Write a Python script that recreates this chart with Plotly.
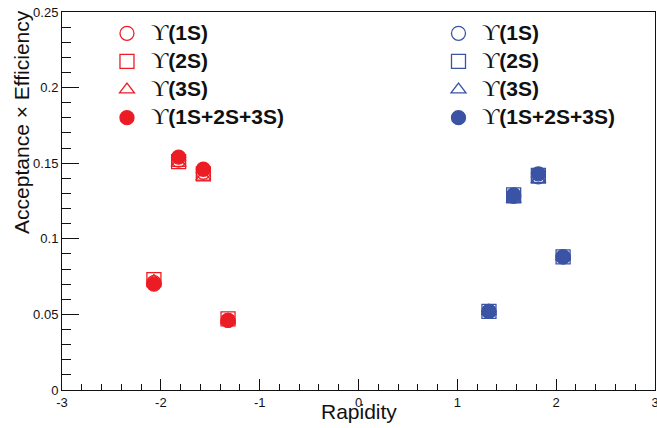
import plotly.graph_objects as go

# Rapidity bins
rap_fwd = [-2.07, -1.82, -1.57, -1.32]   # red set (negative rapidity)
rap_bwd = [1.32, 1.57, 1.82, 2.07]       # blue set (positive rapidity)

# Acceptance x Efficiency values
red_1s = [0.071, 0.152, 0.144, 0.046]
red_2s = [0.073, 0.151, 0.143, 0.047]
red_3s = [0.072, 0.150, 0.141, 0.046]
red_all = [0.070, 0.154, 0.146, 0.046]

blue_1s = [0.052, 0.128, 0.141, 0.088]
blue_2s = [0.052, 0.129, 0.142, 0.088]
blue_3s = [0.052, 0.126, 0.139, 0.088]
blue_all = [0.052, 0.129, 0.143, 0.088]

x_tickvals = [-3, -2, -1, 0, 1, 2, 3]
x_ticktext = ["-3", "-2", "-1", "0", "1", "2", "3"]
y_tickvals = [0, 0.05, 0.1, 0.15, 0.2, 0.25]
y_ticktext = ["0", "0.05", "0.1", "0.15", "0.2", "0.25"]

labels = ["(1S)", "(2S)", "(3S)", "(1S+2S+3S)"]

RED = "#EC1C24"
BLUE = "#3A53A4"


def lab(s):
    return ('<span style="font-family:Liberation Serif;font-size:24px">ϒ</span>'
            '<span style="font-size:21px"><b>' + s + '</b></span>')


fig = go.Figure()

specs = [("circle-open", 14), ("square-open", 14), ("triangle-up-open", 13), ("circle", 14)]

for sets, color, leg in [
    ((red_1s, red_2s, red_3s, red_all), RED, "legend"),
    ((blue_1s, blue_2s, blue_3s, blue_all), BLUE, "legend2"),
]:
    xs = rap_fwd if color == RED else rap_bwd
    for i, (vals, (sym, sz)) in enumerate(zip(sets, specs)):
        fig.add_trace(go.Scatter(
            x=xs, y=vals, mode="markers",
            name=lab(labels[i]),
            legend=leg,
            legendgroup=leg + str(i),
            marker=dict(symbol=sym, size=sz, color=color,
                        line=dict(color=color, width=1.3)),
        ))

legend_common = dict(
    font=dict(family="Liberation Sans, Arial, sans-serif", size=17, color="#111111"),
    bgcolor="rgba(0,0,0,0)", borderwidth=0,
    yanchor="top", xanchor="left",
    tracegroupgap=3, itemclick=False,
)

fig.update_layout(
    width=657, height=428,
    margin=dict(l=62, r=2, t=12, b=38, autoexpand=False),
    paper_bgcolor="white", plot_bgcolor="white",
    font=dict(family="Liberation Sans, Arial, sans-serif", color="#111111"),
    legend=dict(x=0.0691, y=0.99, itemwidth=38, **legend_common),
    legend2=dict(x=0.629, y=0.99, itemwidth=37, **legend_common),
    xaxis=dict(
        range=[-3, 3], showgrid=False, zeroline=False, automargin=False,
        tickvals=x_tickvals, ticktext=x_ticktext, ticklabeloverflow="allow",
        ticks="inside", ticklen=11, tickwidth=1, tickcolor="#111111",
        minor=dict(dtick=0.2, ticks="inside", ticklen=6, tickcolor="#111111", showgrid=False),
        showline=True, linecolor="#111111", linewidth=1, mirror=True,
        tickfont=dict(size=13),
    ),
    yaxis=dict(
        range=[0, 0.25], showgrid=False, zeroline=False, automargin=False,
        tickvals=y_tickvals, ticktext=y_ticktext,
        ticks="inside", ticklen=17, tickwidth=1, tickcolor="#111111",
        minor=dict(dtick=0.01, ticks="inside", ticklen=9, tickcolor="#111111", showgrid=False),
        showline=True, linecolor="#111111", linewidth=1, mirror=True,
        tickfont=dict(size=13),
    ),
    annotations=[
        dict(
            text="Acceptance × Efficiency", textangle=-90,
            xref="paper", yref="paper", x=-0.068, y=1.01,
            xanchor="center", yanchor="top", showarrow=False,
            font=dict(size=21),
        ),
        dict(
            text="Rapidity",
            xref="paper", yref="paper", x=0.5, y=-0.058,
            xanchor="center", yanchor="middle", showarrow=False,
            font=dict(size=21),
        ),
    ],
)

fig.write_html(
    "out.html",
    config={"displayModeBar": False},
    post_script="document.body.style.margin='0';document.body.style.overflow='hidden';",
)
